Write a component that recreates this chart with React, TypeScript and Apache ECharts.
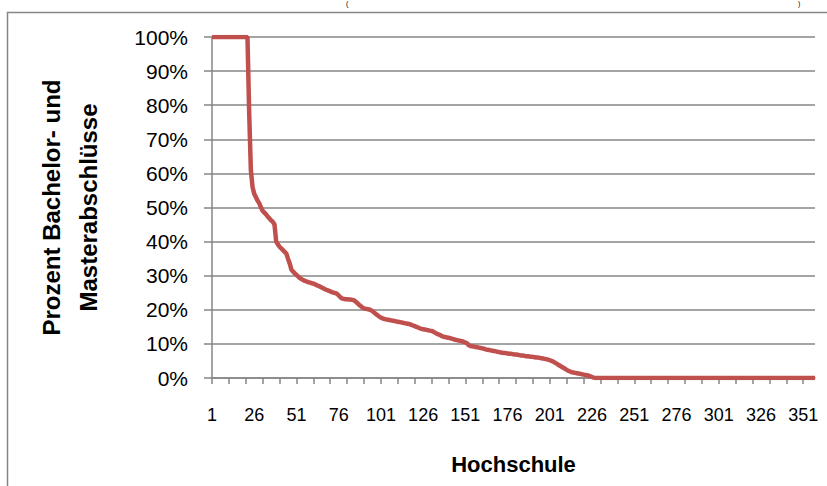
import React, { useEffect, useRef } from "react";
import * as echarts from "echarts";

// Percentage of Bachelor/Master degrees per university (Hochschule), sorted descending
const headShares = [
  100, 100, 100, 100, 100, 100, 100, 100, 100, 100, 100,
  100, 100, 100, 100, 100, 100, 100, 100, 100, 100, 100,
];
const dropShares = [78, 61, 56, 54, 53, 52, 51.2, 50, 49, 48.5, 48, 47.3, 46.8, 46.2, 45.8, 45];
const stepShares = [40, 39.2, 38.5, 38, 37.5, 37, 36.5, 35, 33.6, 31.8, 31.2, 30.7, 30.2, 29.8, 29.3, 29, 28.7];
const midShares = [
  28.5, 28.3, 28.1, 28, 27.8,
  27.7, 27.5, 27.2, 27, 26.8,
  26.5, 26.3, 26, 25.8, 25.6,
  25.4, 25.2, 25, 24.9, 24.7,
  24.2, 23.7, 23.3,
  23.2, 23.1, 23.1, 23, 23, 22.9, 22.8,
  22.4, 22, 21.5, 21.1, 20.7,
  20.4, 20.3, 20.2, 20.1, 19.9, 19.6,
  19.2, 18.8, 18.4, 18, 17.7, 17.5,
];
const lowShares = [
  17.3, 17.2, 17.1, 17, 16.9, 16.8, 16.7, 16.6, 16.5, 16.4,
  16.3, 16.2, 16.1, 16, 15.9, 15.8,
  15.6, 15.4, 15.2, 15, 14.8, 14.6,
  14.4, 14.3, 14.2, 14.1, 14, 13.9, 13.8, 13.6,
  13.3, 13, 12.8, 12.6, 12.3, 12.1,
  12, 11.9, 11.8, 11.7, 11.5, 11.4, 11.2, 11.1, 11,
  10.9, 10.8, 10.6, 10.4, 10.2,
  9.6, 9.4, 9.3,
];
const tailShares = [
  9.2, 9.1, 9, 8.9, 8.8, 8.7, 8.6, 8.4,
  8.3, 8.2, 8.1, 8, 7.9, 7.8, 7.7, 7.6, 7.5, 7.4,
  7.3, 7.3, 7.2, 7.1, 7.1, 7, 6.9, 6.9, 6.8, 6.7,
  6.6, 6.6, 6.5, 6.4, 6.4, 6.3, 6.2, 6.2, 6.1, 6, 6, 5.9,
  5.8, 5.7, 5.6, 5.5, 5.4, 5.2, 5, 4.8,
  4.5, 4.2, 3.9, 3.6, 3.3, 3, 2.7, 2.4, 2.1, 1.9,
  1.7, 1.6, 1.5, 1.4, 1.3, 1.2,
  1.1, 1, 0.9, 0.8, 0.7, 0.5, 0.3, 0.1,
];
const zeroShares = [
  0, 0, 0, 0, 0, 0, 0, 0, 0, 0, 0, 0, 0, 0, 0, 0, 0, 0, 0, 0,
  0, 0, 0, 0, 0, 0, 0, 0, 0, 0, 0, 0, 0, 0, 0, 0, 0, 0, 0, 0,
  0, 0, 0, 0, 0, 0, 0, 0, 0, 0, 0, 0, 0, 0, 0, 0, 0, 0, 0, 0,
  0, 0, 0, 0, 0, 0, 0, 0, 0, 0, 0, 0, 0, 0, 0, 0, 0, 0, 0, 0,
  0, 0, 0, 0, 0, 0, 0, 0, 0, 0, 0, 0, 0, 0, 0, 0, 0, 0, 0, 0,
  0, 0, 0, 0, 0, 0, 0, 0, 0, 0, 0, 0, 0, 0, 0, 0, 0, 0, 0, 0,
  0, 0, 0, 0, 0, 0, 0, 0, 0, 0, 0,
];

const shares = [
  ...headShares,
  ...dropShares,
  ...stepShares,
  ...midShares,
  ...lowShares,
  ...tailShares,
  ...zeroShares,
];

const categoryCount = 358;
const categories = Array.from({ length: categoryCount }, (_, i) => String(i + 1));

const xTitle = "Hochschule";
const yTitle = "Prozent Bachelor- und\nMasterabschlüsse";

const GRAY = "#868686";
const FONT = "'Liberation Sans', Arial, sans-serif";

export default function App() {
  const ref = useRef<HTMLDivElement>(null);

  useEffect(() => {
    if (!ref.current) return;
    const chart = echarts.init(ref.current, undefined, { renderer: "svg" });
    chart.setOption({
      animation: false,
      backgroundColor: "#ffffff",
      textStyle: { fontFamily: FONT },
      grid: {
        left: 212,
        right: 12,
        top: 37,
        bottom: 108,
        containLabel: false,
        outerBoundsMode: "none",
      },
      graphic: [
        {
          type: "rect",
          silent: true,
          shape: { x: 7.5, y: 12.5, width: 900, height: 600 },
          style: { fill: "none", stroke: GRAY, lineWidth: 1.5 },
        },
        {
          type: "text",
          silent: true,
          style: { text: "(", x: 346, y: 0, fontSize: 7, fontFamily: FONT, fill: "#000", textVerticalAlign: "top" },
        },
        {
          type: "text",
          silent: true,
          style: { text: ")", x: 798, y: 0, fontSize: 7, fontFamily: FONT, fill: "#000", textVerticalAlign: "top" },
        },
      ],
      xAxis: {
        type: "category",
        data: categories,
        boundaryGap: false,
        axisLine: { show: true, lineStyle: { color: GRAY, width: 1.5 } },
        axisTick: { show: true, interval: 9, length: 6, lineStyle: { color: GRAY, width: 1.5 } },
        axisLabel: {
          interval: 24,
          margin: 28,
          fontSize: 18,
          color: "#000",
          fontFamily: FONT,
          hideOverlap: false,
        },
        splitLine: { show: false },
        name: xTitle,
        nameLocation: "middle",
        nameGap: 75,
        nameTextStyle: { fontSize: 22, fontWeight: "bold", color: "#000", fontFamily: FONT },
      },
      yAxis: {
        type: "value",
        min: 0,
        max: 100,
        interval: 10,
        axisLine: { show: true, lineStyle: { color: GRAY, width: 1.5 } },
        axisTick: { show: true, length: 8, lineStyle: { color: GRAY, width: 1.5 } },
        axisLabel: {
          formatter: "{value}%",
          margin: 24,
          fontSize: 21,
          color: "#000",
          fontFamily: FONT,
        },
        splitLine: { show: true, lineStyle: { color: GRAY, width: 1.5 } },
        name: yTitle,
        nameLocation: "middle",
        nameGap: 105,
        nameRotate: 90,
        nameTextStyle: { fontSize: 24, fontWeight: "bold", color: "#000", lineHeight: 37, fontFamily: FONT },
      },
      series: [
        {
          type: "line",
          data: shares,
          showSymbol: false,
          symbol: "none",
          lineStyle: { color: "#c0504d", width: 4.5 },
          itemStyle: { color: "#c0504d" },
          z: 5,
        },
      ],
    });
    return () => chart.dispose();
  }, []);

  return (
    <div
      ref={ref}
      style={{ position: "absolute", left: 0, top: 0, width: 827, height: 486 }}
    />
  );
}
